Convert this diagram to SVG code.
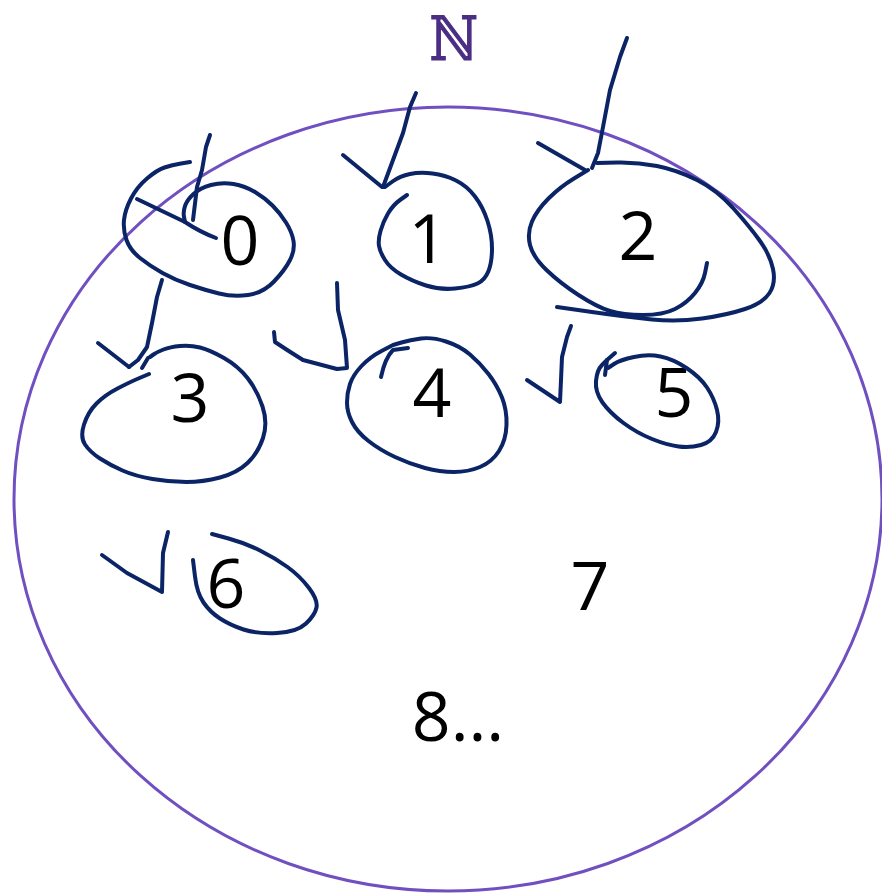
<svg xmlns="http://www.w3.org/2000/svg" width="882" height="896" viewBox="0 0 882 896">
<style>
.ink{fill:none;stroke:#0B2466;stroke-width:4;stroke-linecap:round;stroke-linejoin:round}
.num{font-family:"Open Sans","Noto Sans",sans-serif;font-size:68px;fill:#000;text-anchor:middle}
</style>
<rect width="882" height="896" fill="#fff"/>
<g id="set">
<ellipse cx="448" cy="499" rx="434" ry="392" fill="none" stroke="#7050C0" stroke-width="3"/>
<text transform="translate(454,60) scale(0.92,1.05)" font-family="DejaVu Serif,serif" font-size="58" fill="#4B2E83" stroke="#4B2E83" stroke-width="1" text-anchor="middle">ℕ</text>
</g>
<g id="n0">
<text class="num" x="240" y="265">0</text>
<path class="ink" d="M210,135 L206,147 L202,170 L197,187 L193,220"/>
<path class="ink" d="M137,199 L185,222 Q200,232 216,238"/>
<path class="ink" d="M190,162 L181,163.5 Q172,165 164.5,167.5 Q157,170 147,178.5 Q137,187 131,198.5 Q125,210 124,220 Q123,230 126.5,240 Q130,250 140,258 Q150,266 162.5,273 Q175,280 190,285 Q205,290 219,293.5 Q233,297 248,295 Q263,293 274,281.5 Q285,270 290,260 Q295,250 293.5,241 Q292,232 286,222.5 Q280,213 272.5,205.5 Q265,198 255,192 Q245,186 233.5,184 Q222,182 211,185 Q200,188 193.5,194 Q187,200 185,206 Q183,212 184,217 L185,222"/>
</g>
<g id="n1">
<text class="num" x="428" y="263">1</text>
<path class="ink" d="M416,93 L410,107 L403,133 L393,160 L383,187"/>
<path class="ink" d="M343,155 L382,187"/>
<path class="ink" d="M385,187 L392.5,181.5 Q400,176 410,174 Q420,172 432.5,173.5 Q445,175 456,180.5 Q467,186 475,196.5 Q483,207 487.5,221 Q492,235 492,248.5 Q492,262 488.5,271 Q485,280 477.5,283.5 Q470,287 455,288.5 Q440,290 426,285.5 Q412,281 401,274.5 Q390,268 385,260 Q380,252 379,246 Q378,240 380.5,231 Q383,222 388,213.5 Q393,205 400,200 L407,195"/>
</g>
<g id="n2">
<text class="num" x="638" y="260">2</text>
<path class="ink" d="M627,38 L620,57 L610,90 L603,127 L598,153 L592,168"/>
<path class="ink" d="M538,143 L585,170"/>
<path class="ink" d="M588,170 L574,178.5 Q560,187 548.5,198.5 Q537,210 532,221.5 Q527,233 530,245 Q533,257 546.5,270 Q560,283 578.5,295 Q597,307 610,311 Q623,315 643,315 Q663,315 675,309 Q687,303 695,293 Q703,283 705,273 L707,263"/>
<path class="ink" d="M597,163 L617,162.5 Q637,162 657,166 Q677,170 697,180 Q717,190 733.5,208.5 Q750,227 760,241 Q770,255 773,269 Q776,283 769.5,293 Q763,303 745,309 Q727,315 702,318.5 Q677,322 652,319.5 Q627,317 592,312 L557,307"/>
</g>
<g id="n3">
<text class="num" x="190" y="422">3</text>
<path class="ink" d="M162,280 L157,297 L152,323 L147,347 L138,360 L129,367"/>
<path class="ink" d="M98,343 L129,367"/>
<path class="ink" d="M142,368 L148,358"/>
<path class="ink" d="M149,374 L139.5,378 Q130,382 117.5,388.5 Q105,395 96.5,403.5 Q88,412 84,424.5 Q80,437 85,444.5 Q90,452 100,458.5 Q110,465 122.5,470.5 Q135,476 152.5,479 Q170,482 186.5,482 Q203,482 220,477.5 Q237,473 247.5,463 Q258,453 263,438 Q268,423 262.5,406.5 Q257,390 247.5,378 Q238,366 224,358 Q210,350 200,347.5 Q190,345 180,346 Q170,347 163.5,349.5 Q157,352 153.5,354.5 L150,357"/>
</g>
<g id="n4">
<text class="num" x="432" y="417">4</text>
<path class="ink" d="M274,332 L275,342 Q290,352 303,360 L337,369 L347,368 L345,340 L338,310 L337,283"/>
<path class="ink" d="M408,348 L393,350 Q385,358 381,377"/>
<path class="ink" d="M393,345 L381.5,351 Q370,357 361.5,366 Q353,375 350,384 Q347,393 347,402.5 Q347,412 352,422 Q357,432 368.5,441 Q380,450 395,457 Q410,464 425,468 Q440,472 454,472 Q468,472 480,467 Q492,462 499,451 Q506,440 506.5,425 Q507,410 502,397.5 Q497,385 488.5,374 Q480,363 470,354.5 Q460,346 446,341.5 Q432,337 421,338.5 Q410,340 401.5,342.5 L393,345"/>
</g>
<g id="n5">
<text class="num" x="674" y="417">5</text>
<path class="ink" d="M527,380 L560,402 L561,380 L562,357 L567,337 L571,326"/>
<path class="ink" d="M615,353 L607,360 L605,375"/>
<path class="ink" d="M608,368 L614,364 Q620,360 634,357 Q648,354 660.5,356.5 Q673,359 686.5,368 Q700,377 707,387.5 Q714,398 717,410 Q720,422 716,432 Q712,442 701,445 Q690,448 678.5,446.5 Q667,445 652,439 Q637,433 623.5,423 Q610,413 602.5,402.5 Q595,392 596,381 Q597,370 602,365 L607,360"/>
</g>
<g id="n6">
<text class="num" x="226" y="608">6</text>
<path class="ink" d="M102,555 L127,573 L162,592 L163,553 L168,532"/>
<path class="ink" d="M193,560 L195,576.5 Q197,593 203.5,602.5 Q210,612 220,618.5 Q230,625 243.5,629.5 Q257,634 277,633 Q297,632 306,623.5 Q315,615 316.5,607.5 Q318,600 309,588 Q300,576 287.5,567 Q275,558 260,550.5 Q245,543 228.5,538.5 L212,534"/>
</g>
<g id="n7"><text class="num" x="590" y="610">7</text></g>
<g id="n8"><text class="num" x="458" y="741">8...</text></g>
</svg>
